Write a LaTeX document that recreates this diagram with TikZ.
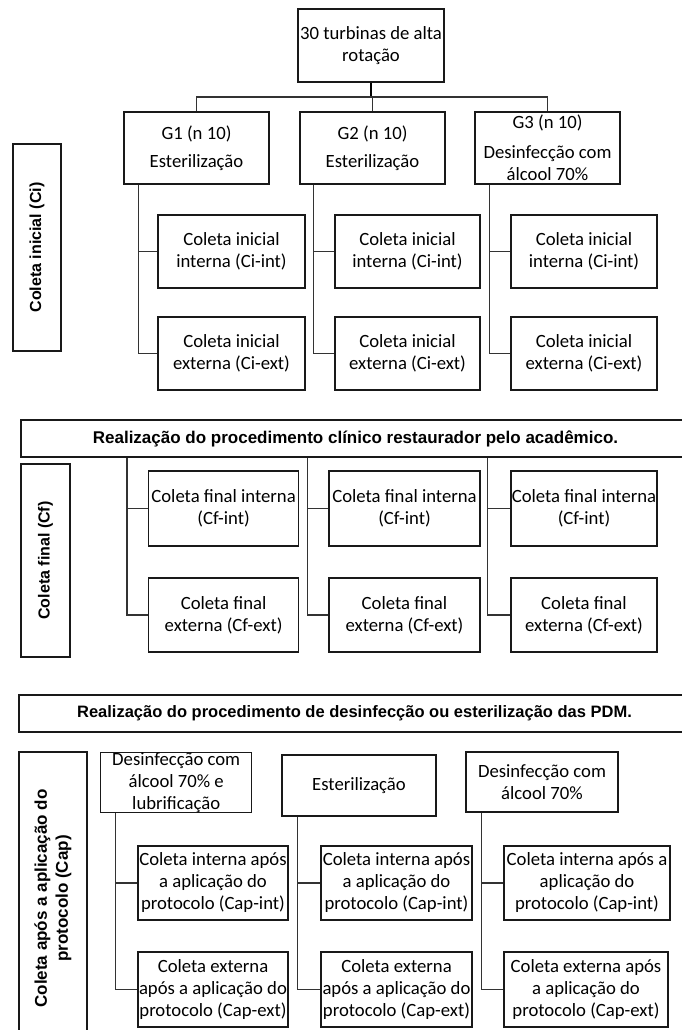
\documentclass[tikz,border=0pt]{standalone}
\usepackage{fontspec}
\setmainfont{Carlito}
\newfontfamily\arialfont{Liberation Sans}
\tikzset{
  caixa/.style={draw=black!90,line width=1.1pt,align=center,inner sep=0pt,font=\fontsize{18.7}{22}\selectfont},
  barra/.style={caixa,font=\arialfont\bfseries\fontsize{17}{20}\selectfont},
  rotulo/.style={caixa,rotate=90,font=\arialfont\bfseries\fontsize{16}{19}\selectfont},
  liga/.style={draw=black!80,line width=1.5pt},
}
\begin{document}
\begin{tikzpicture}[x=1pt,y=-1pt]
  \useasboundingbox (0,0) rectangle (682,1030);
  % ---- coleta inicial (Ci): turbinas, grupos e coletas ----
  \node[caixa,minimum width=146pt,minimum height=73pt] (T) at (371,45.5) {30 turbinas de alta\\rotação};
  \node[caixa,minimum width=145pt,minimum height=72pt] (G1) at (196.5,148) {G1 (n 10)\\[6pt]Esterilização};
  \node[caixa,minimum width=145pt,minimum height=72pt] (G2) at (372.5,148) {G2 (n 10)\\[6pt]Esterilização};
  \node[caixa,minimum width=145pt,minimum height=72pt] (G3) at (547.5,148) {G3 (n 10)\\[8pt]Desinfecção com\\álcool 70\%};
  \node[rotulo,minimum width=207pt,minimum height=48pt] (Ci) at (37,247.5) {Coleta inicial (Ci)};
  \node[caixa,minimum width=147pt,minimum height=73pt] (CiI1) at (231.5,251.5) {Coleta inicial\\interna (Ci-int)};
  \node[caixa,minimum width=145pt,minimum height=73pt] (CiI2) at (407.5,251.5) {Coleta inicial\\interna (Ci-int)};
  \node[caixa,minimum width=146pt,minimum height=73pt] (CiI3) at (584,251.5) {Coleta inicial\\interna (Ci-int)};
  \node[caixa,minimum width=147pt,minimum height=73pt] (CiE1) at (231.5,353.5) {Coleta inicial\\externa (Ci-ext)};
  \node[caixa,minimum width=145pt,minimum height=73pt] (CiE2) at (407.5,353.5) {Coleta inicial\\externa (Ci-ext)};
  \node[caixa,minimum width=146pt,minimum height=73pt] (CiE3) at (584,353.5) {Coleta inicial\\externa (Ci-ext)};
  \coordinate (J) at (T.south |- 0,97);
  \draw[liga,draw=black,line width=2.6pt] (T.south) -- (J);
  \draw[liga] (G1.north) |- (J) -| (G3.north); \draw[liga] (G2.north) -- (G2.north |- J);
  \draw[liga] (G1.south -| CiE1.west) ++(-19,0) |- (CiE1.west); \draw[liga] (CiI1.west) -- ++(-19,0);
  \draw[liga] (G2.south -| CiE2.west) ++(-21,0) |- (CiE2.west); \draw[liga] (CiI2.west) -- ++(-21,0);
  \draw[liga] (G3.south -| CiE3.west) ++(-21,0) |- (CiE3.west); \draw[liga] (CiI3.west) -- ++(-21,0);
  % ---- coleta final (Cf) ----
  \node[barra,minimum width=669pt,minimum height=37pt] (B1) at (355.5,438.5) {Realização do procedimento clínico restaurador pelo acadêmico.};
  \node[rotulo,minimum width=193pt,minimum height=49pt] (Cf) at (45.5,560.5) {Coleta final (Cf)};
  \node[caixa,minimum width=150pt,minimum height=75pt] (CfI1) at (223.6,508.5) {Coleta final interna\\(Cf-int)};
  \node[caixa,minimum width=151pt,minimum height=75pt] (CfI2) at (404.5,508.5) {Coleta final interna\\(Cf-int)};
  \node[caixa,minimum width=146pt,minimum height=75pt] (CfI3) at (584,508.5) {Coleta final interna\\(Cf-int)};
  \node[caixa,minimum width=150pt,minimum height=74pt] (CfE1) at (223.6,615) {Coleta final\\externa (Cf-ext)};
  \node[caixa,minimum width=151pt,minimum height=74pt] (CfE2) at (404.5,615) {Coleta final\\externa (Cf-ext)};
  \node[caixa,minimum width=146pt,minimum height=74pt] (CfE3) at (584,615) {Coleta final\\externa (Cf-ext)};
  \draw[liga] (B1.south -| CfE1.west) ++(-21,0) |- (CfE1.west); \draw[liga] (CfI1.west) -- ++(-21,0);
  \draw[liga] (B1.south -| CfE2.west) ++(-21,0) |- (CfE2.west); \draw[liga] (CfI2.west) -- ++(-21,0);
  \draw[liga] (B1.south -| CfE3.west) ++(-23,0) |- (CfE3.west); \draw[liga] (CfI3.west) -- ++(-23,0);
  % ---- coleta apos o protocolo (Cap) ----
  \node[barra,font=\arialfont\bfseries\fontsize{16.5}{20}\selectfont,minimum width=671pt,minimum height=37pt] (B2) at (354.5,713.5) {Realização do procedimento de desinfecção ou esterilização das PDM.};
  \node[rotulo,font=\arialfont\bfseries\fontsize{17}{21}\selectfont,minimum width=293pt,minimum height=68pt] (Cap) at (53,898.5) {Coleta após a aplicação do\\protocolo (Cap)};
  \node[caixa,minimum width=151pt,minimum height=60pt] (P1) at (176.2,782.7) {Desinfecção com\\álcool 70\% e\\lubrificação};
  \node[caixa,minimum width=154pt,minimum height=61pt] (P2) at (359,785.5) {Esterilização};
  \node[caixa,minimum width=152pt,minimum height=60pt] (P3) at (542,782) {Desinfecção com\\álcool 70\%};
  \node[caixa,minimum width=150pt,minimum height=74pt] (CpI1) at (213,883) {Coleta interna após\\a aplicação do\\protocolo (Cap-int)};
  \node[caixa,minimum width=151pt,minimum height=74pt] (CpI2) at (396.5,883) {Coleta interna após\\a aplicação do\\protocolo (Cap-int)};
  \node[caixa,minimum width=166pt,minimum height=74pt] (CpI3) at (587,883) {Coleta interna após a\\aplicação do\\protocolo (Cap-int)};
  \node[caixa,minimum width=150pt,minimum height=75pt] (CpE1) at (213,989.5) {Coleta externa\\após a aplicação do\\protocolo (Cap-ext)};
  \node[caixa,minimum width=151pt,minimum height=75pt] (CpE2) at (396.5,989.5) {Coleta externa\\após a aplicação do\\protocolo (Cap-ext)};
  \node[caixa,minimum width=164pt,minimum height=75pt] (CpE3) at (586,989.5) {Coleta externa após\\a aplicação do\\protocolo (Cap-ext)};
  \draw[liga] (P1.south -| CpE1.west) ++(-22,0) |- (CpE1.west); \draw[liga] (CpI1.west) -- ++(-22,0);
  \draw[liga] (P2.south -| CpE2.west) ++(-23,0) |- (CpE2.west); \draw[liga] (CpI2.west) -- ++(-23,0);
  \draw[liga] (P3.south -| CpE3.west) ++(-22,0) |- (CpE3.west); \draw[liga] (CpI3.west) -- ++(-22,0);
\end{tikzpicture}
\end{document}
